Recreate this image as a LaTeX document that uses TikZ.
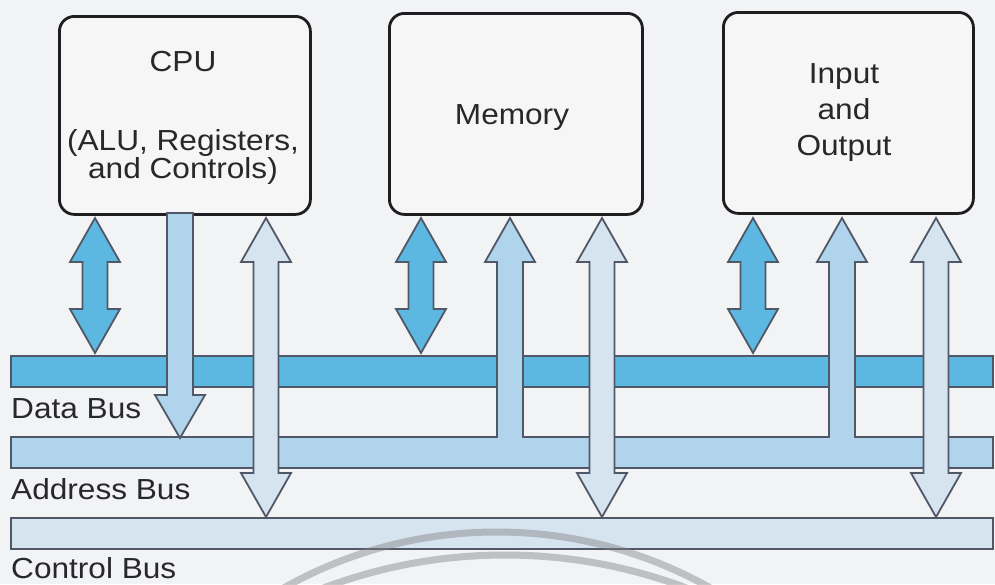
\documentclass[tikz,border=0pt]{standalone}
\usepackage{fontspec}
\setmainfont[FakeStretch=1.09]{Liberation Sans}
\begin{document}
\begin{tikzpicture}[x=1pt,y=-1pt,
  box/.style={draw=boxline,line width=2.8pt,rounded corners=15pt,fill=boxfill},
  lbl/.style={text=ink,font=\fontsize{29}{29}\selectfont,inner sep=0pt,anchor=base},
  buslbl/.style={text=ink,font=\fontsize{29}{29}\selectfont,inner sep=0pt,anchor=base west},
  part/.style={draw=edge,line width=1.8pt,line join=miter},
  wm/.style={draw=wmgray,line width=7pt,opacity=0.45}]
\definecolor{bg}{RGB}{242,243,245}
\definecolor{boxfill}{RGB}{246,246,247}
\definecolor{boxline}{RGB}{30,30,32}
\definecolor{datac}{RGB}{92,184,224}
\definecolor{addrc}{RGB}{176,212,236}
\definecolor{ctrlc}{RGB}{214,228,240}
\definecolor{edge}{RGB}{80,88,104}
\definecolor{ink}{RGB}{40,40,42}
\definecolor{wmgray}{RGB}{130,130,130}
\newcommand\dblarr[4]{% x, ytop, ybot, fill
  \path[part,fill=#4] (#1-12.5,#2+44) -- (#1-25,#2+44) -- (#1,#2) -- (#1+25,#2+44)
    -- (#1+12.5,#2+44) -- (#1+12.5,#3-44) -- (#1+25,#3-44) -- (#1,#3)
    -- (#1-25,#3-44) -- (#1-12.5,#3-44) -- cycle;}
% background
\path[fill=bg,use as bounding box] (0,0) rectangle (995,584);
% boxes
\node[box,minimum width=251pt,minimum height=198pt,anchor=north west] (cpu) at (58,15) {};
\node[box,minimum width=253pt,minimum height=201pt,anchor=north west] (mem) at (388,12) {};
\node[box,minimum width=250pt,minimum height=201pt,anchor=north west] (io) at (722,11) {};
\node[lbl] (cpuA) at (183,71) {CPU};
\node[lbl] (cpuB) at (183,150) {(ALU, Registers,};
\node[lbl] (cpuC) at (183,178) {and Controls)};
\node[lbl] (memA) at (512,124) {Memory};
\node[lbl] (ioA) at (844,83) {Input};
\node[lbl] (ioB) at (844,119) {and};
\node[lbl] (ioC) at (844,155) {Output};
% data bus
\path[part,fill=datac] (11,356) rectangle (993,387);
\node[buslbl] (datalbl) at (11,418) {Data Bus};
% data arrows
\dblarr{95}{218}{353}{datac}
\dblarr{421}{218}{353}{datac}
\dblarr{753}{218}{353}{datac}
% address bus merged with upward arrows from memory and I/O
\path[part,fill=addrc] (11,437) -- (497,437) -- (497,262) -- (485,262) -- (510,218)
  -- (535,262) -- (523,262) -- (523,437) -- (829,437) -- (829,262) -- (817,262)
  -- (842,218) -- (867,262) -- (855,262) -- (855,437) -- (993,437) -- (993,468)
  -- (11,468) -- cycle;
\node[buslbl] (addrlbl) at (11,499) {Address Bus};
% CPU address arrow (down)
\path[part,fill=addrc] (167,213) -- (193,213) -- (193,395) -- (205,395) -- (180,438)
  -- (155,395) -- (167,395) -- cycle;
% control bus
\path[part,fill=ctrlc] (11,518) rectangle (993,549);
\node[buslbl] (ctrllbl) at (11,578) {Control Bus};
% control arrows
\dblarr{266}{218}{517}{ctrlc}
\dblarr{602}{218}{517}{ctrlc}
\dblarr{936}{218}{517}{ctrlc}
% faint watermark rings
\begin{scope}
\clip (0,0) rectangle (995,584);
\draw[wm] (497,966) circle[radius=434];
\draw[wm] (505,1068) circle[radius=513];
\end{scope}
\end{tikzpicture}
\end{document}
